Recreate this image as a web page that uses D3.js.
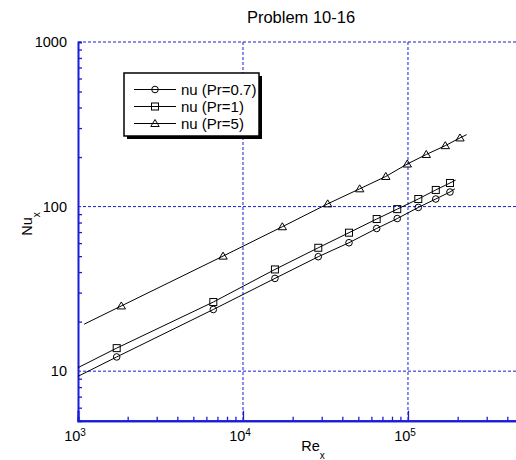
<!DOCTYPE html>
<html>
<head>
<meta charset="utf-8">
<script src="https://cdn.jsdelivr.net/npm/d3@7"></script>
<style>
  body { margin: 0; background: #fff; }
  svg { display: block; font-family: "Liberation Sans", Arial, sans-serif; }
</style>
</head>
<body>
<div id="vis"></div>
<script>
const seriesNames = ["nu (Pr=0.7)", "nu (Pr=1)", "nu (Pr=5)"];
const markerShapes = ["circle", "square", "triangle"];

// marker positions (Re_x) shared by Pr=0.7 and Pr=1
const reLow = [1716, 6610, 15620, 28600, 43900, 64600, 86100, 115500, 147400, 179700];
const nuPr07 = [12.2, 23.7, 36.6, 49.6, 60.3, 73.6, 84.6, 98.8, 111.2, 122.6];
const nuPr1 = [13.8, 26.3, 41.5, 56.2, 69.4, 84.0, 96.5, 111.2, 126.2, 139.1];
// marker positions for Pr=5
const reHigh = [1830, 7570, 17310, 32610, 50960, 73370, 99030, 129100, 168300, 206600];
const nuPr5 = [24.9, 50.0, 75.4, 103.9, 128.2, 152.4, 181.4, 207.3, 234.5, 261.3];

// the curves run a bit past the markers at both ends
const curveStartRe = [1000, 1000, 1090];
const curveStartNu = [9.3, 10.5, 19.3];
const curveEndRe = [192600, 194600, 226900];
const curveEndNu = [128.2, 144.9, 273.6];

const xMajor = [1e3, 1e4, 1e5];
const yMajor = [10, 100, 1000];

const width = 516, height = 460;
const margin = {top: 42, left: 78, bottom: 39.3};
const plotRight = 523.3;

const svg = d3.select("#vis").append("svg")
    .attr("width", width)
    .attr("height", height);

const x = d3.scaleLog().domain([1e3, 5e5]).range([margin.left, plotRight]);
const y = d3.scaleLog().domain([5, 1000]).range([height - margin.bottom, margin.top]);

const blue = "#1a1ad8";

// minor tick values
const xMinor = [];
for (const d of [1e3, 1e4, 1e5]) for (let k = 2; k <= 9; k++) if (d * k < 5e5) xMinor.push(d * k);
const yMinor = [6, 7, 8, 9];
for (const d of [10, 100]) for (let k = 2; k <= 9; k++) yMinor.push(d * k);

// grid
const grid = svg.append("g")
    .attr("stroke", blue)
    .attr("stroke-width", 1)
    .attr("stroke-dasharray", "3,2");
grid.selectAll(".gx")
    .data(xMajor.slice(1))
    .join("line")
    .attr("x1", d => x(d)).attr("x2", d => x(d))
    .attr("y1", y(1000)).attr("y2", y(5));
grid.selectAll(".gy")
    .data(yMajor)
    .join("line")
    .attr("y1", d => y(d)).attr("y2", d => y(d))
    .attr("x1", x(1e3)).attr("x2", plotRight);

// axes
const xAxisG = svg.append("g").attr("transform", `translate(0,${y(5)})`);
xAxisG.call(d3.axisBottom(x).tickValues(xMinor).tickSize(-4).tickFormat(""));
xAxisG.append("g").call(d3.axisBottom(x).tickValues(xMajor).tickSize(-10).tickFormat(""));
xAxisG.selectAll(".domain").attr("stroke", blue).attr("stroke-width", 2);
xAxisG.selectAll(".tick line").attr("stroke", blue).attr("stroke-width", 1.3);

const yAxisG = svg.append("g").attr("transform", `translate(${x(1e3)},0)`);
yAxisG.call(d3.axisLeft(y).tickValues(yMinor).tickSize(-4).tickFormat(""));
yAxisG.selectAll(".domain").attr("stroke", blue).attr("stroke-width", 2);
yAxisG.selectAll(".tick line").attr("stroke", blue).attr("stroke-width", 1.3);

// x tick labels 10^n
const xl = svg.append("g").attr("font-size", 14.5).attr("fill", "#000");
xMajor.forEach(d => {
  const t = xl.append("text")
      .attr("x", x(d) - 3)
      .attr("y", y(5) + 20.5)
      .attr("text-anchor", "middle");
  t.append("tspan").text("10");
  t.append("tspan").attr("font-size", 10).attr("dy", -5.5).text(Math.round(Math.log10(d)));
});

// y tick labels
svg.append("g").attr("font-size", 14.5)
  .selectAll("text")
  .data(yMajor)
  .join("text")
  .attr("x", x(1e3) - 11)
  .attr("y", d => y(d))
  .attr("dy", "0.35em")
  .attr("text-anchor", "end")
  .text(d => d);

// axis titles
const xt = svg.append("text")
    .attr("x", 313)
    .attr("y", 450.5)
    .attr("font-size", 14.5)
    .attr("text-anchor", "middle");
xt.append("tspan").text("Re");
xt.append("tspan").attr("font-size", 10).attr("dy", 8).text("x");

const yt = svg.append("text")
    .attr("transform", "translate(32,224) rotate(-90)")
    .attr("font-size", 14.5)
    .attr("text-anchor", "middle");
yt.append("tspan").text("Nu");
yt.append("tspan").attr("font-size", 10).attr("dy", 8).text("x");

svg.append("text")
    .attr("x", 301)
    .attr("y", 23)
    .attr("font-size", 16.5)
    .attr("text-anchor", "middle")
    .text("Problem 10-16");

// series
const series = [
  {re: reLow, nu: nuPr07},
  {re: reLow, nu: nuPr1},
  {re: reHigh, nu: nuPr5}
].map((s, i) => ({
  name: seriesNames[i],
  shape: markerShapes[i],
  markers: s.re.map((r, j) => [r, s.nu[j]]),
  curve: [[curveStartRe[i], curveStartNu[i]]]
      .concat(s.re.map((r, j) => [r, s.nu[j]]))
      .concat([[curveEndRe[i], curveEndNu[i]]])
}));

const line = d3.line().x(d => x(d[0])).y(d => y(d[1]));

function drawMarker(g, shape, cx, cy) {
  if (shape === "circle") {
    g.append("circle").attr("cx", cx).attr("cy", cy).attr("r", 3.3);
  } else if (shape === "square") {
    g.append("rect").attr("x", cx - 3.5).attr("y", cy - 3.5).attr("width", 7).attr("height", 7);
  } else {
    g.append("path").attr("d", `M${cx},${cy - 4}L${cx + 4.2},${cy + 3}L${cx - 4.2},${cy + 3}Z`);
  }
}

const plot = svg.append("g");
series.forEach(s => {
  plot.append("path")
      .attr("d", line(s.curve))
      .attr("fill", "none")
      .attr("stroke", "#000")
      .attr("stroke-width", 1);
  const mg = plot.append("g").attr("fill", "none").attr("stroke", "#000").attr("stroke-width", 1);
  s.markers.forEach(d => drawMarker(mg, s.shape, x(d[0]), y(d[1])));
});

// legend
const lg = svg.append("g");
lg.append("rect").attr("x", 127).attr("y", 76).attr("width", 135).attr("height", 63).attr("fill", "#000");
lg.append("rect").attr("x", 124).attr("y", 73).attr("width", 135).attr("height", 63)
    .attr("fill", "#fff").attr("stroke", "#000").attr("stroke-width", 1.5);
series.forEach((s, i) => {
  const ry = 89.5 + i * 17;
  lg.append("line").attr("x1", 134).attr("x2", 176).attr("y1", ry).attr("y2", ry)
      .attr("stroke", "#000").attr("stroke-width", 1);
  const mg = lg.append("g").attr("fill", "none").attr("stroke", "#000").attr("stroke-width", 1);
  drawMarker(mg, s.shape, 155, ry);
  lg.append("text").attr("x", 181).attr("y", ry).attr("dy", "0.35em")
      .attr("font-size", 15).text(s.name);
});
</script>
</body>
</html>
